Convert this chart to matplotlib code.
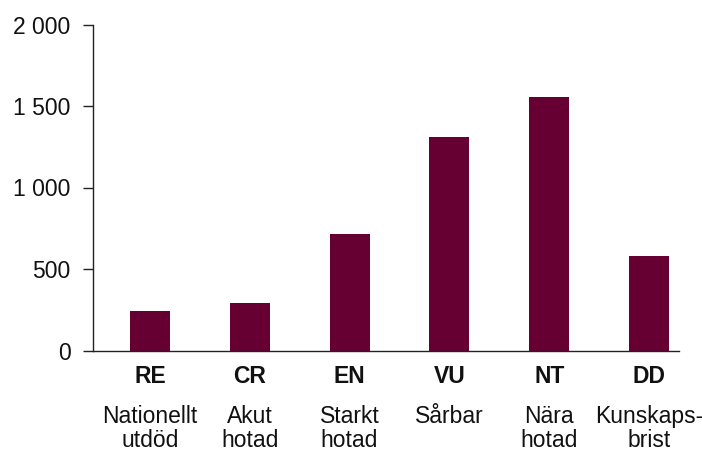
import matplotlib
matplotlib.use("Agg")
import matplotlib.pyplot as plt

# Rödlistade arter per kategori
codes = ["RE", "CR", "EN", "VU", "NT", "DD"]
names = ["Nationellt\nutdöd", "Akut\nhotad", "Starkt\nhotad", "Sårbar",
         "Nära\nhotad", "Kunskaps-\nbrist"]
counts = [245, 290, 712, 1308, 1555, 578]
yticks = [0, 500, 1000, 1500, 2000]
ytick_labels = ["0", "500", "1 000", "1 500", "2 000"]

plt.rcParams["font.family"] = ["Liberation Sans", "DejaVu Sans"]
fs = 16.5

fig = plt.figure(figsize=(7.02, 4.51), dpi=100)
ax = fig.add_axes([93 / 702, 100.5 / 451, (679 - 93) / 702, (350.5 - 24.5) / 451])

x = list(range(len(codes)))
ax.bar(x, counts, width=0.4, color="#660033", zorder=2)

ax.set_xlim(-0.57, 5.3)
ax.set_ylim(0, 2000)
ax.set_yticks(yticks)
ax.set_yticklabels(ytick_labels, fontsize=fs, color="#111111")
ax.tick_params(axis="y", length=7.2, width=1.0, pad=9, color="#222222")

ax.set_xticks(x)
ax.set_xticklabels([])
ax.tick_params(axis="x", length=0)

for side in ["top", "right"]:
    ax.spines[side].set_visible(False)
for side in ["left", "bottom"]:
    ax.spines[side].set_linewidth(1.0)
    ax.spines[side].set_color("#222222")

for i in x:
    ax.annotate(codes[i], xy=(i, 0), xycoords=("data", "axes fraction"),
                xytext=(0, -19), textcoords="offset points",
                ha="center", va="center", fontsize=fs, fontweight="bold",
                color="#111111")
    ax.annotate(names[i], xy=(i, 0), xycoords=("data", "axes fraction"),
                xytext=(0, -39), textcoords="offset points",
                ha="center", va="top", fontsize=fs, color="#111111",
                multialignment="center", linespacing=1.1)

fig.savefig("out.png", dpi=100)
